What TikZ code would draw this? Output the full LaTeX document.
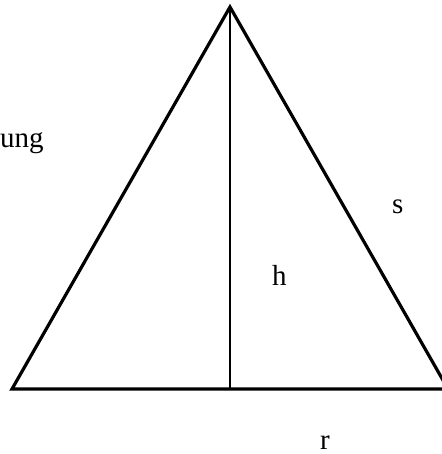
\documentclass[tikz,border=0pt]{standalone}
\usepackage{fontspec}
\setmainfont{Liberation Serif}
\usetikzlibrary{positioning,calc}

\begin{document}
\begin{tikzpicture}[
	x=1pt, y=-1pt,
	font=\rmfamily\fontsize{29}{34}\selectfont,
	side/.style={draw=black, line width=3.2pt, line join=miter},
	alt/.style={draw=black, line width=1.6pt},
	lbl/.style={inner sep=0pt, anchor=base west},
]

% ---- frame ----
\useasboundingbox (0,0) rectangle (441,454);

% ---- corners ----
\coordinate (apex) at (230,7);
\coordinate (bl) at (12,389);
\coordinate (br) at (448,389);
\coordinate (foot) at (apex |- bl);

% ---- triangle and height ----
\draw[side] (bl) -- (apex) -- (br) -- cycle;
\draw[alt] (apex) -- (foot);

% ---- labels ----
\node[lbl] (cap) at (0,148) {ung};
\node[lbl] (hlab) at (272,285) {h};
\node[lbl] (slab) at (392,213) {s};
\node[lbl] (rlab) at (320,449) {r};

\end{tikzpicture}
\end{document}
